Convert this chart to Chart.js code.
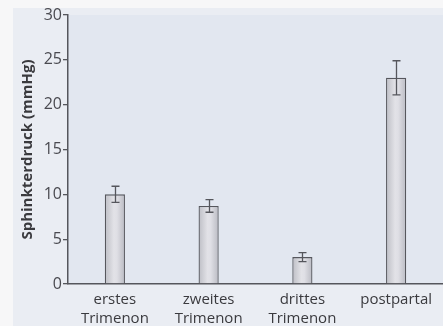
<!DOCTYPE html>
<html>
<head>
<meta charset="utf-8">
<script src="https://cdn.jsdelivr.net/npm/chart.js@4/dist/chart.umd.min.js"></script>
<style>
  html, body { margin: 0; padding: 0; background: #f7f7f8; }
  #wrap { position: relative; width: 443px; height: 326px; }
</style>
</head>
<body>
<div id="wrap"><canvas id="c" width="443" height="326"></canvas></div>
<script>
// Sphincter pressure by stage of pregnancy (mean ± error)
const categories = [["erstes", "Trimenon"], ["zweites", "Trimenon"], ["drittes", "Trimenon"], "postpartal"];
const pressureMean = [10.0, 8.7, 3.0, 23.0];
const pressureErr = [0.9, 0.7, 0.5, 1.9];
const yTicks = [0, 5, 10, 15, 20, 25, 30];

const FONT = "'Open Sans', 'DejaVu Sans', sans-serif";
const TEXT = '#3a3a3e';
const TICK_TEXT = '#4a4a50';
const AXIS = '#55565c';
const BAR_FRACTION = 0.215;

// Soft paper-like backgrounds behind the label area and the plot area
const backdrop = {
  id: 'backdrop',
  beforeDraw(chart) {
    const { ctx, chartArea } = chart;
    ctx.save();
    ctx.fillStyle = '#eaedf3';
    ctx.fillRect(13, 8, chart.width - 13, chart.height - 8);
    ctx.fillStyle = '#e2e7f0';
    ctx.fillRect(chartArea.left, chartArea.top, chart.width - chartArea.left, chartArea.bottom - chartArea.top);
    ctx.restore();
  }
};

// Whiskers drawn from the mean ± error values
const errorBars = {
  id: 'errorBars',
  afterDatasetsDraw(chart) {
    const { ctx } = chart;
    const ys = chart.scales.y;
    const meta = chart.getDatasetMeta(0);
    ctx.save();
    ctx.strokeStyle = AXIS;
    ctx.lineWidth = 1.3;
    meta.data.forEach((bar, i) => {
      const x = Math.round(bar.x) + 0.5;
      const top = ys.getPixelForValue(pressureMean[i] + pressureErr[i]);
      const bot = ys.getPixelForValue(pressureMean[i] - pressureErr[i]);
      ctx.beginPath();
      ctx.moveTo(x, top); ctx.lineTo(x, bot);
      ctx.moveTo(x - 4, top); ctx.lineTo(x + 4, top);
      ctx.moveTo(x - 4, bot); ctx.lineTo(x + 4, bot);
      ctx.stroke();
    });
    ctx.restore();
  }
};

function barFill(context) {
  const chart = context.chart;
  const xs = chart.scales && chart.scales.x;
  if (!xs || !chart.chartArea) return '#d4d4da';
  const cx = xs.getPixelForValue(context.dataIndex);
  const w = (xs.width / categories.length) * BAR_FRACTION;
  const g = chart.ctx.createLinearGradient(cx - w / 2, 0, cx + w / 2, 0);
  g.addColorStop(0, '#bdbec5');
  g.addColorStop(0.45, '#e2e2e7');
  g.addColorStop(0.6, '#dfdfe5');
  g.addColorStop(1, '#b9bac2');
  return g;
}

new Chart(document.getElementById('c'), {
  type: 'bar',
  data: {
    labels: categories,
    datasets: [{
      data: pressureMean,
      backgroundColor: barFill,
      borderColor: '#56575d',
      borderWidth: 1.3,
      borderSkipped: 'bottom',
      categoryPercentage: 1,
      barPercentage: BAR_FRACTION
    }]
  },
  options: {
    responsive: false,
    animation: false,
    events: [],
    layout: { padding: { top: 15, right: 0, bottom: 0, left: 0 } },
    plugins: { legend: { display: false }, tooltip: { enabled: false } },
    scales: {
      x: {
        grid: { display: false, drawTicks: false },
        border: { display: true, color: AXIS, width: 1.5 },
        ticks: {
          color: TEXT,
          font: { family: FONT, size: 15, lineHeight: 1.27 },
          padding: 6,
          maxRotation: 0,
          autoSkip: false
        },
        afterFit(scale) { scale.height = 42; }
      },
      y: {
        min: 0,
        max: 30,
        afterBuildTicks(scale) { scale.ticks = yTicks.map(v => ({ value: v })); },
        grid: { drawOnChartArea: false, drawTicks: true, tickLength: 5, color: AXIS, lineWidth: 1.3 },
        border: { display: true, color: AXIS, width: 1.5 },
        ticks: {
          color: TICK_TEXT,
          font: { family: FONT, size: 16 },
          padding: 1
        },
        title: {
          display: true,
          text: 'Sphinkterdruck (mmHg)',
          color: TEXT,
          font: { family: FONT, size: 15, weight: 'bold' },
          padding: { top: 19, bottom: 0 }
        },
        afterFit(scale) { scale.width = 68; }
      }
    }
  },
  plugins: [backdrop, errorBars]
});
</script>
</body>
</html>
